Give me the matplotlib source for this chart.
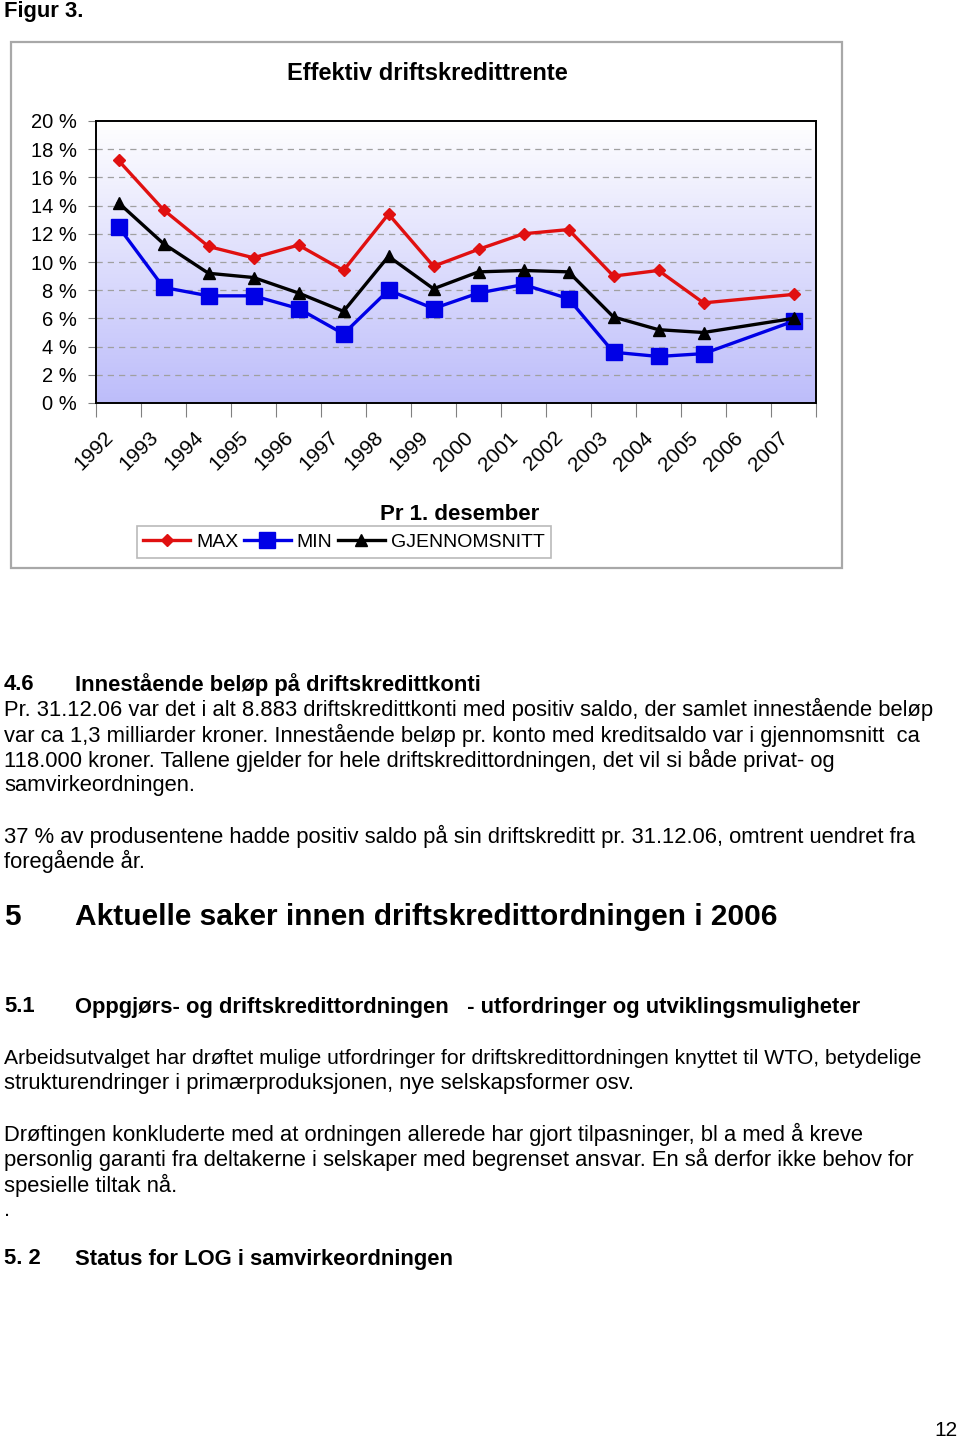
import matplotlib
matplotlib.use("Agg")
import matplotlib.pyplot as plt
import matplotlib.transforms as mtransforms
import numpy as np
from matplotlib.patches import Rectangle
from matplotlib.lines import Line2D

plt.rcParams["font.family"] = ["Liberation Sans", "DejaVu Sans"]

W, H = 960, 1440

years = ["1992", "1993", "1994", "1995", "1996", "1997", "1998", "1999",
         "2000", "2001", "2002", "2003", "2004", "2005", "2006", "2007"]
# no value reported for 2006, the line is drawn straight through
max_rate = [17.2, 13.7, 11.1, 10.3, 11.2, 9.4, 13.4, 9.7,
            10.9, 12.0, 12.3, 9.0, 9.4, 7.1, None, 7.7]
min_rate = [12.5, 8.2, 7.6, 7.6, 6.7, 4.9, 8.0, 6.7,
            7.8, 8.4, 7.4, 3.6, 3.3, 3.5, None, 5.8]
avg_rate = [14.2, 11.3, 9.2, 8.9, 7.8, 6.5, 10.4, 8.1,
            9.3, 9.4, 9.3, 6.1, 5.2, 5.0, None, 6.0]
y_ticks = [0, 2, 4, 6, 8, 10, 12, 14, 16, 18, 20]


def fx(x):
    return x / W


def fy(y):
    return 1 - y / H


def series_xy(values):
    xs = [i + 0.5 for i, v in enumerate(values) if v is not None]
    ys = [v for v in values if v is not None]
    return xs, ys


fig = plt.figure(figsize=(W / 100, H / 100), dpi=100)

# grey frame around the chart object
fig.patches.append(Rectangle((fx(11), fy(568)), fx(842) - fx(11), fy(42) - fy(568),
                             transform=fig.transFigure, fill=False,
                             edgecolor="#a8a8a8", linewidth=1.6))

ax = fig.add_axes([fx(96), fy(403), fx(816) - fx(96), fy(121) - fy(403)])

# white to lavender background
grad = np.linspace(0, 1, 256).reshape(-1, 1)
top = np.array([1.0, 1.0, 1.0])
bottom = np.array([0.74, 0.74, 0.98])
img = top + (bottom - top) * grad[:, :, None]
ax.imshow(img, extent=[0, len(years), 0, 20], aspect="auto", zorder=0)

for t in y_ticks[1:-1]:
    ax.axhline(t, color="#a0a0a0", linestyle=(0, (5, 4)), linewidth=0.9, zorder=1)

xs, ys = series_xy(max_rate)
ax.plot(xs, ys, color="#e01010", linewidth=2.4, marker="D", markersize=6.5, zorder=4)
xs, ys = series_xy(min_rate)
ax.plot(xs, ys, color="#0000e6", linewidth=2.4, marker="s", markersize=11, zorder=3)
xs, ys = series_xy(avg_rate)
ax.plot(xs, ys, color="black", linewidth=2.4, marker="^", markersize=8, zorder=3.5)

ax.set_xlim(0, len(years))
ax.set_ylim(0, 20)
ax.set_yticks(y_ticks)
ax.set_yticklabels([f"{t} %" for t in y_ticks], fontsize=14.5)
ax.tick_params(axis="y", length=6, width=0.8, color="#808080", pad=8)

ax.set_xticks(range(len(years) + 1))
ax.set_xticklabels([])
ax.tick_params(axis="x", which="major", length=10, width=0.8, color="#808080")
ax.set_xticks([i + 0.5 for i in range(len(years))], minor=True)
ax.set_xticklabels(years, minor=True, rotation=45, ha="right", va="top",
                   rotation_mode="anchor", fontsize=15)
ax.tick_params(axis="x", which="minor", length=0, pad=18)
shift = mtransforms.ScaledTranslation(-0.15, 0, fig.dpi_scale_trans)
for lab in ax.get_xticklabels(minor=True):
    lab.set_transform(lab.get_transform() + shift)

for s in ax.spines.values():
    s.set_linewidth(1.4)
    s.set_color("black")

fig.text(fx(427), fy(74), "Effektiv driftskredittrente", fontsize=17, fontweight="bold",
         ha="center", va="center")
fig.text(fx(460), fy(514), "Pr 1. desember", fontsize=16, fontweight="bold",
         ha="center", va="center")

handles = [
    Line2D([], [], color="#e01010", linewidth=2.4, marker="D", markersize=6.5),
    Line2D([], [], color="#0000e6", linewidth=2.4, marker="s", markersize=11),
    Line2D([], [], color="black", linewidth=2.4, marker="^", markersize=8),
]
leg = fig.legend(handles, ["MAX", "MIN", "GJENNOMSNITT"], ncol=3,
                 loc="center", bbox_to_anchor=(fx(344), fy(542)),
                 frameon=True, fancybox=False, edgecolor="#a8a8a8",
                 fontsize=14, handlelength=2.4, handletextpad=0.3,
                 columnspacing=0.3, borderpad=0.35)
leg.get_frame().set_linewidth(1.2)

# page text below the chart
fig.text(fx(4), fy(12), "Figur 3.", fontsize=15.8, fontweight="bold", va="center")

headings = [
    (685, "4.6", "Innestående beløp på driftskredittkonti", 15.8),
    (917, "5", "Aktuelle saker innen driftskredittordningen i 2006", 21.5),
    (1007, "5.1", "Oppgjørs- og driftskredittordningen   - utfordringer og utviklingsmuligheter", 15.8),
    (1259, "5. 2", "Status for LOG i samvirkeordningen", 15.8),
]
for y, num, title, size in headings:
    fig.text(fx(4), fy(y), num, fontsize=size, fontweight="bold", va="center")
    fig.text(fx(75), fy(y), title, fontsize=size, fontweight="bold", va="center")

paragraphs = [
    (709, "Pr. 31.12.06 var det i alt 8.883 driftskredittkonti med positiv saldo, der samlet innestående beløp", 15.8),
    (735, "var ca 1,3 milliarder kroner. Innestående beløp pr. konto med kreditsaldo var i gjennomsnitt  ca", 15.8),
    (760, "118.000 kroner. Tallene gjelder for hele driftskredittordningen, det vil si både privat- og", 15.8),
    (786, "samvirkeordningen.", 15.8),
    (836, "37 % av produsentene hadde positiv saldo på sin driftskreditt pr. 31.12.06, omtrent uendret fra", 15.8),
    (861, "foregående år.", 15.8),
    (1058, "Arbeidsutvalget har drøftet mulige utfordringer for driftskredittordningen knyttet til WTO, betydelige", 15.2),
    (1083, "strukturendringer i primærproduksjonen, nye selskapsformer osv.", 15.8),
    (1134, "Drøftingen konkluderte med at ordningen allerede har gjort tilpasninger, bl a med å kreve", 15.8),
    (1159, "personlig garanti fra deltakerne i selskaper med begrenset ansvar. En så derfor ikke behov for", 15.8),
    (1185, "spesielle tiltak nå.", 15.8),
    (1211, ".", 15.8),
]
for y, txt, size in paragraphs:
    fig.text(fx(4), fy(y), txt, fontsize=size, va="center")

fig.text(fx(958), fy(1430), "12", fontsize=15, ha="right", va="center")

fig.savefig("out.png", dpi=100)
